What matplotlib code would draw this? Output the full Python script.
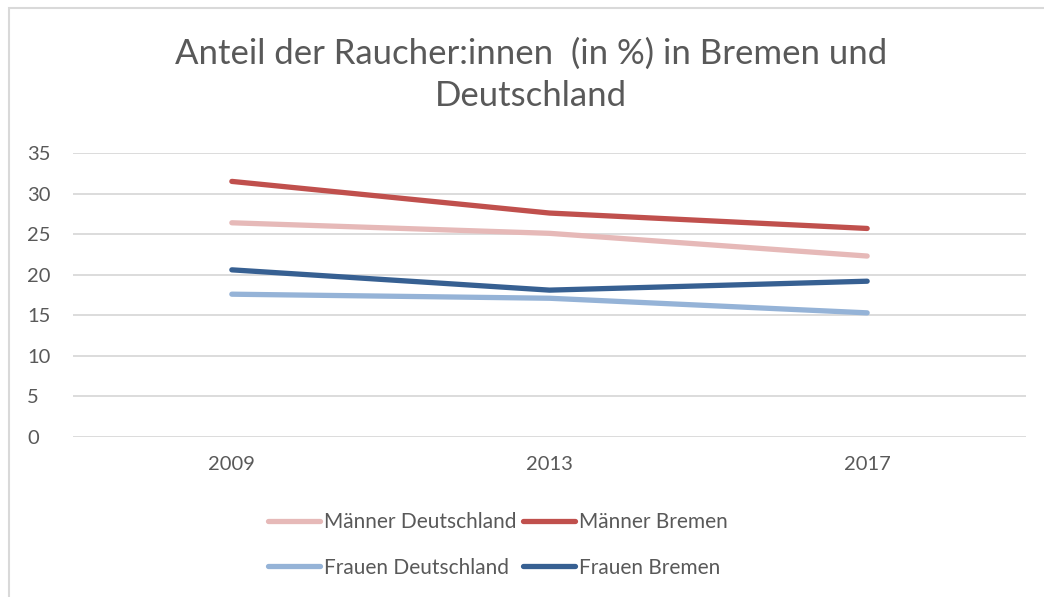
import matplotlib
matplotlib.use("Agg")
import matplotlib.pyplot as plt
from matplotlib.patches import Rectangle

# Data
years = ["2009", "2013", "2017"]
maenner_de = [26.4, 25.1, 22.3]
maenner_hb = [31.5, 27.6, 25.7]
frauen_de = [17.6, 17.1, 15.3]
frauen_hb = [20.6, 18.1, 19.2]

plt.rcParams['font.family'] = ['Lato', 'DejaVu Sans']
grey = "#595959"

fig = plt.figure(figsize=(10.44, 5.97), dpi=100)
# chart border (Excel style)
fig.patches.append(Rectangle((9/1044, -0.1), 1.2, 1 - 8/597 + 0.1, transform=fig.transFigure,
                             fill=False, edgecolor="#d9d9d9", linewidth=1.5))

ax = fig.add_axes([73/1044, 1 - 437/597, (1026 - 73)/1044, (437 - 153)/597])
x = range(len(years))
l1, = ax.plot(x, maenner_de, color="#e6b9b8", lw=3.8, solid_capstyle="round", label="Männer Deutschland")
l2, = ax.plot(x, maenner_hb, color="#c0504d", lw=3.8, solid_capstyle="round", label="Männer Bremen")
l3, = ax.plot(x, frauen_de, color="#95b3d7", lw=3.8, solid_capstyle="round", label="Frauen Deutschland")
l4, = ax.plot(x, frauen_hb, color="#376092", lw=3.8, solid_capstyle="round", label="Frauen Bremen")

ax.set_xlim(-0.5, 2.5)
ax.set_ylim(0, 35)
ax.set_yticks(range(0, 36, 5))
ax.set_xticks(list(x))
ax.set_xticklabels(years)
ax.grid(axis="y", color="#d9d9d9", lw=1.3)
ax.set_axisbelow(True)
for s in ax.spines.values():
    s.set_visible(False)
ax.tick_params(length=0, labelsize=14.5, colors=grey)
ax.tick_params(axis="x", pad=14)
ax.tick_params(axis="y", pad=33)
for lab in ax.get_yticklabels():
    lab.set_horizontalalignment("left")

fig.text(0.509, 1 - 75/597, "Anteil der Raucher:innen  (in %) in Bremen und\nDeutschland",
         ha="center", va="center", fontsize=25, color=grey, linespacing=1.4)

fig.legend(handles=[l1, l3, l2, l4], ncol=2, loc="center", bbox_to_anchor=(0.477, 1 - 545/597),
           frameon=False, fontsize=15, labelcolor=grey, handlelength=2.5, handletextpad=0.2,
           columnspacing=0.3, labelspacing=1.2)

fig.savefig("out.png", dpi=100)
